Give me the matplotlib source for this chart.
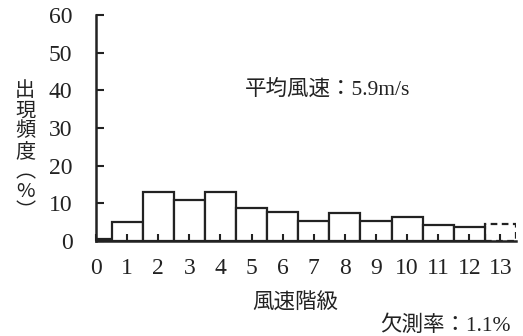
import numpy as np
import matplotlib
matplotlib.use('Agg')
import matplotlib.pyplot as plt

# wind class vs frequency (%)
classes = list(range(14))
freq = [0.5, 5.0, 13.0, 10.9, 13.0, 8.8, 7.8, 5.2, 7.4, 5.2, 6.3, 4.3, 3.8, 4.4]
missing_class = 13  # drawn dashed
yticks = [0, 10, 20, 30, 40, 50, 60]
mean_text = '平均風速：5.9m/s'
miss_text = '欠測率：1.1%'
xlabel = '風速階級'
ylabel = '出\n現\n頻\n度\n︵\n%\n︶'

num_font = ['Liberation Serif', 'Noto Sans CJK JP']
jp_font = ['Noto Sans CJK JP', 'Liberation Serif']

fig = plt.figure(figsize=(5.23, 3.36), dpi=100)
ax = fig.add_axes([0.1836, 0.2827, 0.8030, 0.6727])

for c, f in zip(classes, freq):
	if c == missing_class:
		ax.bar(c, f, width=1.0, fill=False, edgecolor='#222222', linewidth=1.6, linestyle=(0, (3, 2)))
for c, f in zip(classes, freq):
	if c != missing_class:
		ax.bar(c, f, width=1.0, color='white', edgecolor='#222222', linewidth=1.6)

ax.set_xlim(0, 13.5)
ax.set_ylim(0, 60)
ax.set_yticks(yticks)
ax.set_xticks(classes)
ax.set_xticklabels([str(c) for c in classes], family=num_font, fontsize=17, color='#222222')
ax.set_yticklabels([str(v) for v in yticks], family=num_font, fontsize=17, color='#222222')
ax.tick_params(axis='y', direction='in', length=6, width=1.5, pad=17, color='#222222')
ax.tick_params(axis='x', direction='in', length=5, width=1.5, pad=12, color='#222222')
ax.spines['top'].set_visible(False)
ax.spines['right'].set_visible(False)
ax.spines['left'].set_linewidth(1.8)
ax.spines['bottom'].set_linewidth(1.8)
ax.spines['left'].set_color('#222222')
ax.spines['bottom'].set_color('#222222')

fig.text(0.627, 0.732, mean_text, family=num_font, fontsize=15.5, ha='center', va='center', color='#222222')
fig.text(0.564, 0.098, xlabel, family=jp_font, fontsize=15.5, ha='center', va='center', color='#222222')
fig.text(0.977, 0.03, miss_text, family=num_font, fontsize=15.5, ha='right', va='center', color='#222222')
fig.text(0.048, 0.55, ylabel, family=jp_font, fontsize=14.5, ha='center', va='center', linespacing=0.95, color='#222222')

plt.savefig('out.png', dpi=100)
